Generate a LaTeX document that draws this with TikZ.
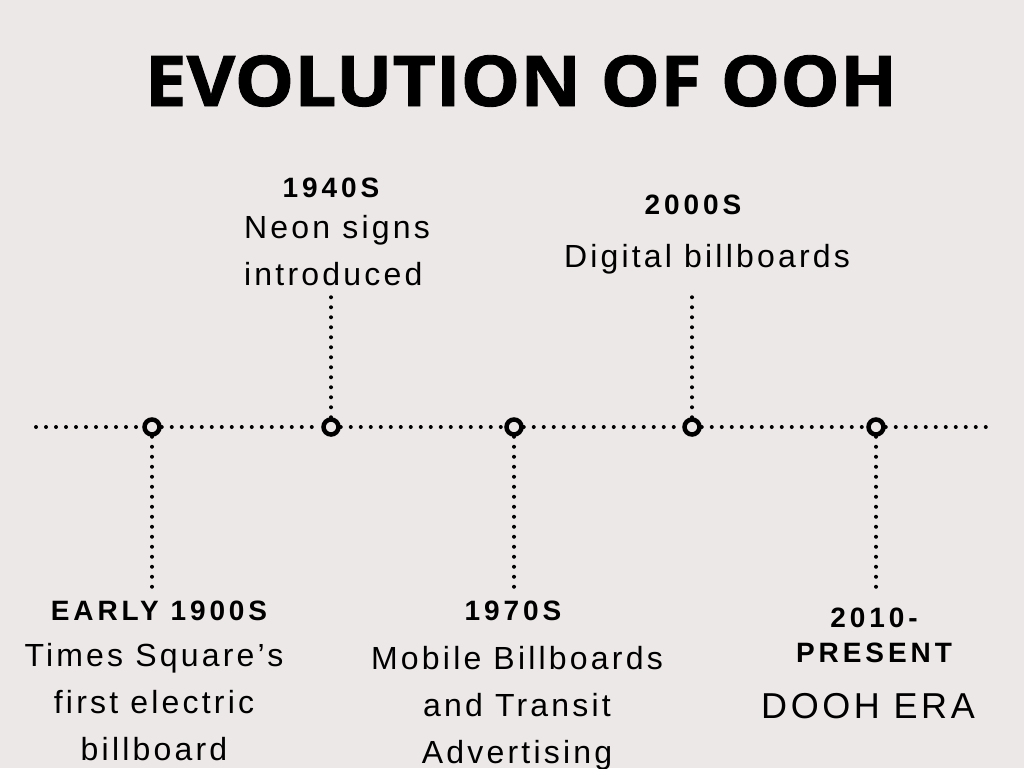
\documentclass[tikz,border=0pt]{standalone}
\usepackage{fontspec}
\setmainfont{Liberation Sans}
\newfontfamily\titlefont{Open Sans}[FakeStretch=1.07,FakeBold=1.2]
\newfontfamily\spacedfont{Liberation Sans}[LetterSpace=10]
\newfontfamily\headfont{Liberation Sans}[LetterSpace=14]
\usetikzlibrary{positioning}
\definecolor{paper}{HTML}{ECE8E7}

\begin{document}
\begin{tikzpicture}
  [x=1pt,y=-1pt,
   dotline/.style={line width=4pt,line cap=round,dash pattern=on 0pt off 10pt},
   stop/.style={circle,draw=black,line width=4.5pt,fill=paper,minimum size=15pt,inner sep=0pt},
   yearlbl/.style={font=\headfont\bfseries\fontsize{28}{35}\selectfont,anchor=base,inner sep=0pt,align=center},
   desc/.style={font=\spacedfont\fontsize{32}{47}\selectfont,anchor=base,inner sep=0pt,align=center}]

  \fill[paper] (0,0) rectangle (1024,768);
  \useasboundingbox (0,0) rectangle (1024,768);

  \node[anchor=base,inner sep=0pt,font=\titlefont\bfseries\fontsize{70}{72}\selectfont] (title) at (521,106) {EVOLUTION OF OOH};

  \node[stop] (s1) at (152,427) {};
  \node[stop] (s2) at (331,427) {};
  \node[stop] (s3) at (514,427) {};
  \node[stop] (s4) at (692,427) {};
  \node[stop] (s5) at (876,427) {};
  \coordinate (lstart) at (36,427);
  \coordinate (lend) at (988,427);
  \coordinate (e1) at (152,590);
  \coordinate (e2) at (331,288);
  \coordinate (e3) at (514,590);
  \coordinate (e4) at (692,288);
  \coordinate (e5) at (876,590);

  \draw[dotline] (lstart) -- (s1);
  \draw[dotline] (s1) -- (s2);
  \draw[dotline] (s2) -- (s3);
  \draw[dotline] (s3) -- (s4);
  \draw[dotline] (s4) -- (s5);
  \draw[dotline] (s5) -- (lend);
  \draw[dotline] (s1) -- (e1);
  \draw[dotline] (s2) -- (e2);
  \draw[dotline] (s3) -- (e3);
  \draw[dotline] (s4) -- (e4);
  \draw[dotline] (s5) -- (e5);

  % labels above the line (multi-line nodes sit on their last baseline)
  \node[yearlbl] (y2) at (331,197) {1940S};
  \node[desc,align=left] (d2) at (337,285) {Neon signs\\introduced};
  \node[yearlbl] (y4) at (693,214) {2000S};
  \node[desc] (d4) at (707,267) {Digital billboards};

  % labels below the line
  \node[yearlbl] (y1) at (159,620) {EARLY 1900S};
  \node[desc] (d1) at (154,760) {Times Square’s\\first electric\\billboard};
  \node[yearlbl] (y3) at (513,620) {1970S};
  \node[desc] (d3) at (517,763) {Mobile Billboards\\and Transit\\Advertising};
  \node[yearlbl] (y5) at (874,662) {2010-\\PRESENT};
  \node[desc,font=\spacedfont\fontsize{36}{47}\selectfont] (d5) at (868,718) {DOOH ERA};
\end{tikzpicture}
\end{document}
